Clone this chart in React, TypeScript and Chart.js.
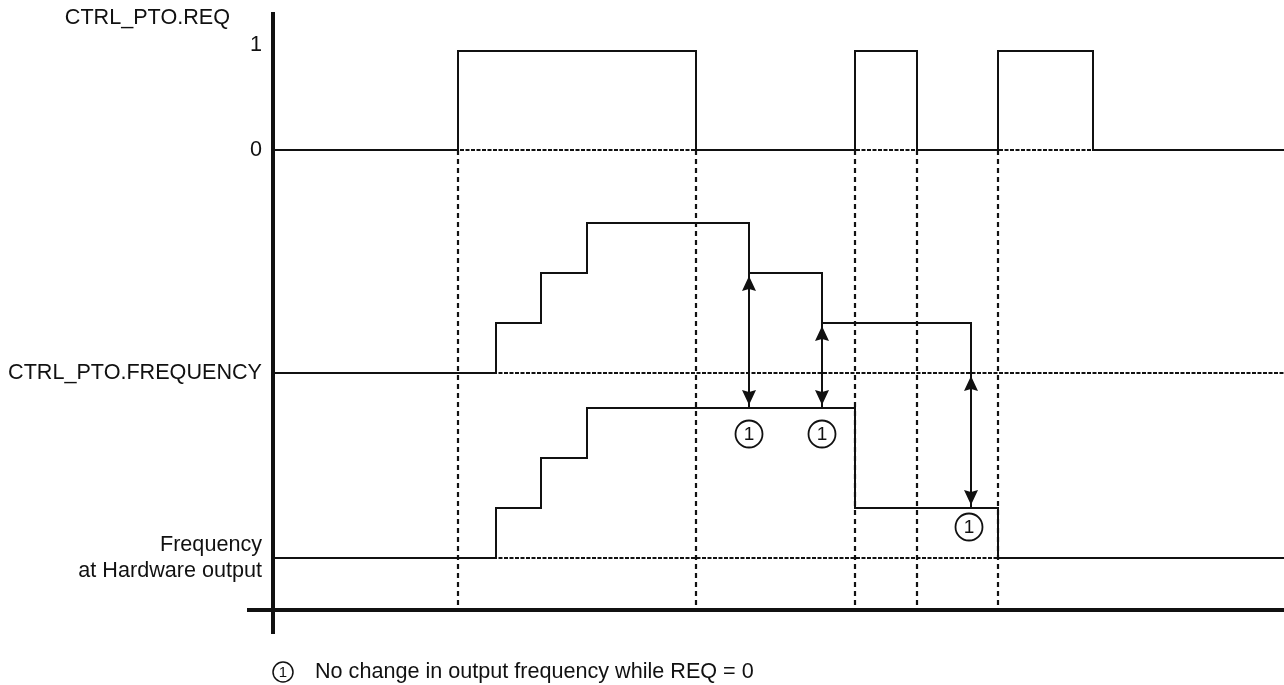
import React, { useEffect, useRef } from "react";
import { Chart, registerables } from "chart.js";

Chart.register(...registerables);

// ---- data (time in arbitrary units, levels in steps) ----
const T_END = 101.1;
const reqTimes = [0, 18.5, 42.3, 58.2, 64.4, 72.5, 82.0, T_END];
const reqLevels = [0, 1, 0, 1, 0, 1, 0, 0];
const freqTimes = [0, 22.3, 26.8, 31.4, 47.6, 54.9, 69.8];
const freqLevels = [0, 1, 2, 3, 2, 1, 0];
const hwTimes = [0, 22.3, 26.8, 31.4, 58.2, 72.5, T_END];
const hwLevels = [0, 1, 2, 3, 1, 0, 0];
const edgeTimes = [18.5, 42.3, 58.2, 64.4, 72.5];
const arrowTimes = [47.6, 54.9, 69.8];
const arrowFromFreq = [2, 1, 0];
const arrowToHw = [3, 3, 1];
const noteTimes = [47.6, 54.9, 69.6];
const noteLevels = [2.48, 2.48, 0.62];
const reqTitle = "CTRL_PTO.REQ";
const reqTickLabels = ["0", "1"];
const freqLabel = "CTRL_PTO.FREQUENCY";
const hwLabel = ["Frequency", "at Hardware output"];
const noteMark = "1";
const footnote = "No change in output frequency while REQ = 0";

// ---- layout (vertical placement of each trace) ----
const REQ_BASE = 9.2;
const REQ_STEP = 1.98;
const FREQ_BASE = 4.74;
const FREQ_STEP = 1.0;
const HW_BASE = 1.04;
const HW_STEP = 1.0;
const Y_MIN = -0.46;
const Y_MAX = 11.92;
const ONE_LABEL_LIFT = 0.12;
const FONT = '"Liberation Sans", Arial, Helvetica, sans-serif';
const FS = 21.6;
const INK = "#111111";

const toPts = (ts: number[], ls: number[], base: number, step: number) =>
  ts.map((t, i) => ({ x: t, y: base + ls[i] * step }));

const overlay = {
  id: "diagramOverlay",
  afterDatasetsDraw(chart: any) {
    const ctx = chart.ctx;
    const xs = chart.scales.x;
    const ys = chart.scales.y;
    const area = chart.chartArea;
    ctx.save();
    // horizontal time axis
    ctx.strokeStyle = INK;
    ctx.lineWidth = 4;
    ctx.beginPath();
    const y0 = ys.getPixelForValue(0);
    ctx.moveTo(area.left - 26, y0);
    ctx.lineTo(area.right, y0);
    ctx.stroke();

    // arrow heads
    chart.data.datasets.forEach((ds: any, i: number) => {
      if (!ds.isArrow) return;
      const meta = chart.getDatasetMeta(i);
      const a = meta.data[0];
      const b = meta.data[1];
      const heads = [
        { p: a, dir: Math.sign(a.y - b.y) },
        { p: b, dir: Math.sign(b.y - a.y) },
      ];
      ctx.fillStyle = INK;
      heads.forEach(({ p, dir }) => {
        const tipY = p.y - dir * 3;
        ctx.beginPath();
        ctx.moveTo(p.x, tipY);
        ctx.lineTo(p.x - 7, tipY - dir * 15);
        ctx.lineTo(p.x, tipY - dir * 13);
        ctx.lineTo(p.x + 7, tipY - dir * 15);
        ctx.closePath();
        ctx.fill();
      });
    });

    // circled notes
    ctx.textAlign = "center";
    ctx.textBaseline = "middle";
    noteTimes.forEach((t, i) => {
      const cx = xs.getPixelForValue(t);
      const cy = ys.getPixelForValue(HW_BASE + noteLevels[i] * HW_STEP);
      ctx.fillStyle = "#fff";
      ctx.strokeStyle = INK;
      ctx.lineWidth = 1.8;
      ctx.beginPath();
      ctx.arc(cx, cy, 13.5, 0, Math.PI * 2);
      ctx.fill();
      ctx.stroke();
      ctx.fillStyle = INK;
      ctx.font = `19px ${FONT}`;
      ctx.fillText(noteMark, cx, cy + 1);
    });

    // title of REQ trace
    ctx.textAlign = "right";
    ctx.font = `${FS}px ${FONT}`;
    ctx.fillStyle = INK;
    ctx.fillText(reqTitle, area.left - 43, area.top + 4);

    // footnote
    const fy = chart.height - 13;
    const fx = area.left + 10;
    ctx.strokeStyle = INK;
    ctx.lineWidth = 1.5;
    ctx.beginPath();
    ctx.arc(fx, fy, 10, 0, Math.PI * 2);
    ctx.stroke();
    ctx.textAlign = "center";
    ctx.font = `15px ${FONT}`;
    ctx.fillText(noteMark, fx, fy + 1);
    ctx.textAlign = "left";
    ctx.font = `${FS}px ${FONT}`;
    ctx.fillText(footnote, area.left + 42, fy);
    ctx.restore();
  },
};

export default function App() {
  const ref = useRef<HTMLCanvasElement | null>(null);

  useEffect(() => {
    if (!ref.current) return;
    const solid = (data: any[]) => ({
      data,
      stepped: "before" as const,
      borderColor: INK,
      borderWidth: 2,
      pointRadius: 0,
      fill: false,
    });
    const hDash = (base: number) => ({
      data: [
        { x: 0, y: base },
        { x: T_END, y: base },
      ],
      borderColor: "#111",
      borderWidth: 2,
      borderDash: [4, 1.5],
      pointRadius: 0,
      fill: false,
    });
    const vDash = edgeTimes.map((t) => ({
      data: [
        { x: t, y: REQ_BASE },
        { x: t, y: 0.06 },
      ],
      borderColor: "#111",
      borderWidth: 2.2,
      borderDash: [5, 4],
      pointRadius: 0,
      fill: false,
    }));
    const arrows = arrowTimes.map((t, i) => ({
      isArrow: true,
      data: [
        { x: t, y: FREQ_BASE + arrowFromFreq[i] * FREQ_STEP },
        { x: t, y: HW_BASE + arrowToHw[i] * HW_STEP },
      ],
      borderColor: INK,
      borderWidth: 2,
      pointRadius: 0,
      fill: false,
    }));

    const tickMap = new Map<number, any>([
      [HW_BASE, hwLabel],
      [FREQ_BASE, freqLabel],
      [REQ_BASE, reqTickLabels[0]],
      [REQ_BASE + REQ_STEP + ONE_LABEL_LIFT, reqTickLabels[1]],
    ]);

    const chart = new Chart(ref.current, {
      type: "line",
      data: {
        datasets: [
          solid(toPts(reqTimes, reqLevels, REQ_BASE, REQ_STEP)),
          solid(toPts(freqTimes, freqLevels, FREQ_BASE, FREQ_STEP)),
          solid(toPts(hwTimes, hwLevels, HW_BASE, HW_STEP)),
          ...arrows,
          hDash(REQ_BASE),
          hDash(FREQ_BASE),
          hDash(HW_BASE),
          ...vDash,
        ] as any,
      },
      options: {
        animation: false,
        responsive: false,
        events: [],
        layout: { padding: { top: 14, bottom: 52, left: 0, right: 0 } },
        plugins: {
          legend: { display: false },
          tooltip: { enabled: false },
        },
        scales: {
          x: { type: "linear", min: 0, max: T_END, display: false },
          y: {
            type: "linear",
            min: Y_MIN,
            max: Y_MAX,
            position: "left",
            afterFit: (s: any) => {
              s.width = 273;
              s.paddingTop = 0;
              s.paddingBottom = 0;
            },
            afterBuildTicks: (s: any) => {
              s.ticks = Array.from(tickMap.keys())
                .sort((a, b) => a - b)
                .map((v) => ({ value: v }));
            },
            grid: {
              display: true,
              drawOnChartArea: false,
              drawTicks: false,
              color: "rgba(0,0,0,0)",
            },
            border: { display: true, color: INK, width: 4 },
            ticks: {
              autoSkip: false,
              padding: 11,
              color: INK,
              font: { family: FONT, size: FS, lineHeight: 1.22 },
              callback: (v: any) => tickMap.get(v as number) ?? "",
            },
          },
        },
      },
      plugins: [overlay],
    });
    return () => chart.destroy();
  }, []);

  return (
    <div style={{ position: "absolute", left: 0, top: 0, width: 1284, height: 685, background: "#fff" }}>
      <canvas ref={ref} width={1284} height={685} style={{ display: "block" }} />
    </div>
  );
}
